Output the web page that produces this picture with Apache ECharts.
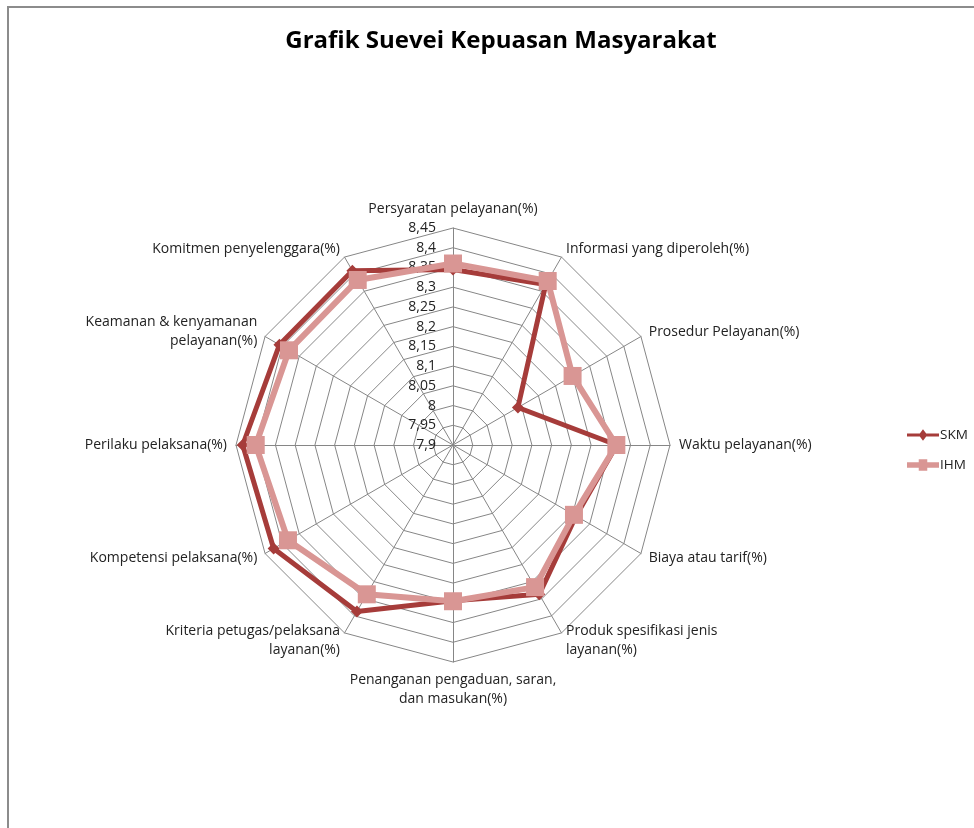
<!DOCTYPE html>
<html>
<head>
<meta charset="utf-8">
<script src="https://cdn.jsdelivr.net/npm/echarts@6/dist/echarts.min.js"></script>
<style>
    html, body { margin: 0; padding: 0; background: #fff; }
    #chart { width: 974px; height: 828px; }
</style>
</head>
<body>
<div id="chart"></div>
<script>
// kategori (sumbu radar), searah jarum jam dari atas
const categories = [
    'Persyaratan pelayanan(%)',
    'Informasi yang diperoleh(%)',
    'Prosedur Pelayanan(%)',
    'Waktu pelayanan(%)',
    'Biaya atau tarif(%)',
    'Produk spesifikasi jenis\nlayanan(%)',
    'Penanganan pengaduan, saran,\ndan masukan(%)',
    'Kriteria petugas/pelaksana\nlayanan(%)',
    'Kompetensi pelaksana(%)',
    'Perilaku pelaksana(%)',
    'Keamanan & kenyamanan\npelayanan(%)',
    'Komitmen penyelenggara(%)'
];
const skm = [8.345, 8.37, 8.09, 8.315, 8.26, 8.337, 8.295, 8.387, 8.425, 8.433, 8.408, 8.41];
const ihm = [8.36, 8.38, 8.25, 8.314, 8.254, 8.316, 8.296, 8.337, 8.383, 8.40, 8.38, 8.383];
const axisMin = 7.9;
const axisMax = 8.45;
const axisStep = 0.05;

const center = [453, 445];
const radius = 217;
const font = 'Open Sans';

// echarts radar berputar berlawanan jarum jam -> balik urutan (kecuali yang pertama)
function clockwise(arr) {
    return [arr[0]].concat(arr.slice(1).reverse());
}

let myCharts = echarts.init(document.getElementById('chart'));
let option = {
    animation: false,
    title: {
        text: 'Grafik Suevei Kepuasan Masyarakat',
        left: 496,
        top: 24,
        textAlign: 'center',
        textStyle: { fontFamily: font, fontSize: 24, fontWeight: 'bold', color: '#000' }
    },
    legend: {
        orient: 'vertical',
        left: 902,
        top: 423,
        itemGap: 16,
        itemWidth: 32,
        itemHeight: 12,
        textStyle: { fontFamily: font, fontSize: 13.5, color: '#222', padding: [0, 0, 0, -4] },
        data: [
            { name: 'SKM', icon: 'path://M0,4 L12,4 L15,0 L18,4 L30,4 L30,7 L18,7 L15,11 L12,7 L0,7 Z' },
            { name: 'IHM', icon: 'path://M0,3 L11,3 L11,0 L19,0 L19,3 L30,3 L30,8 L19,8 L19,11 L11,11 L11,8 L0,8 Z' }
        ]
    },
    graphic: [{
        type: 'rect',
        shape: { x: 8, y: 7, width: 1000, height: 900 },
        style: { fill: 'none', stroke: '#8c8c8c', lineWidth: 2 },
        silent: true
    }],
    // polar dipakai hanya untuk label skala di sumbu atas
    polar: { center: center, radius: radius },
    angleAxis: { show: false, startAngle: 90, min: 0, max: 360 },
    radiusAxis: {
        min: axisMin,
        max: axisMax,
        interval: axisStep,
        axisLine: { show: false },
        axisTick: { show: false },
        splitLine: { show: false },
        axisLabel: {
            margin: 17,
            fontFamily: font,
            fontSize: 14,
            color: '#222',
            formatter: function (v) {
                return String(parseFloat(v.toFixed(2))).replace('.', ',');
            }
        }
    },
    radar: {
        center: center,
        radius: radius,
        startAngle: 90,
        shape: 'polygon',
        splitNumber: Math.round((axisMax - axisMin) / axisStep),
        axisNameGap: 9,
        axisName: { fontFamily: font, fontSize: 14, lineHeight: 19, color: '#222' },
        splitArea: { show: false },
        splitLine: { lineStyle: { color: '#868686', width: 1 } },
        axisLine: { lineStyle: { color: '#868686', width: 1 } },
        indicator: clockwise(categories).map(function (c) {
            return { name: c, min: axisMin, max: axisMax };
        })
    },
    series: [{
        type: 'radar',
        data: [
            {
                name: 'SKM',
                value: clockwise(skm),
                symbol: 'diamond',
                symbolSize: 12,
                itemStyle: { color: '#A63C3A' },
                lineStyle: { color: '#A63C3A', width: 5 }
            },
            {
                name: 'IHM',
                value: clockwise(ihm),
                symbol: 'rect',
                symbolSize: 18,
                itemStyle: { color: '#D99694' },
                lineStyle: { color: '#D99694', width: 6 }
            }
        ]
    }]
};
myCharts.setOption(option);
window.addEventListener('resize', function () {
    myCharts.resize();
});
</script>
</body>
</html>
